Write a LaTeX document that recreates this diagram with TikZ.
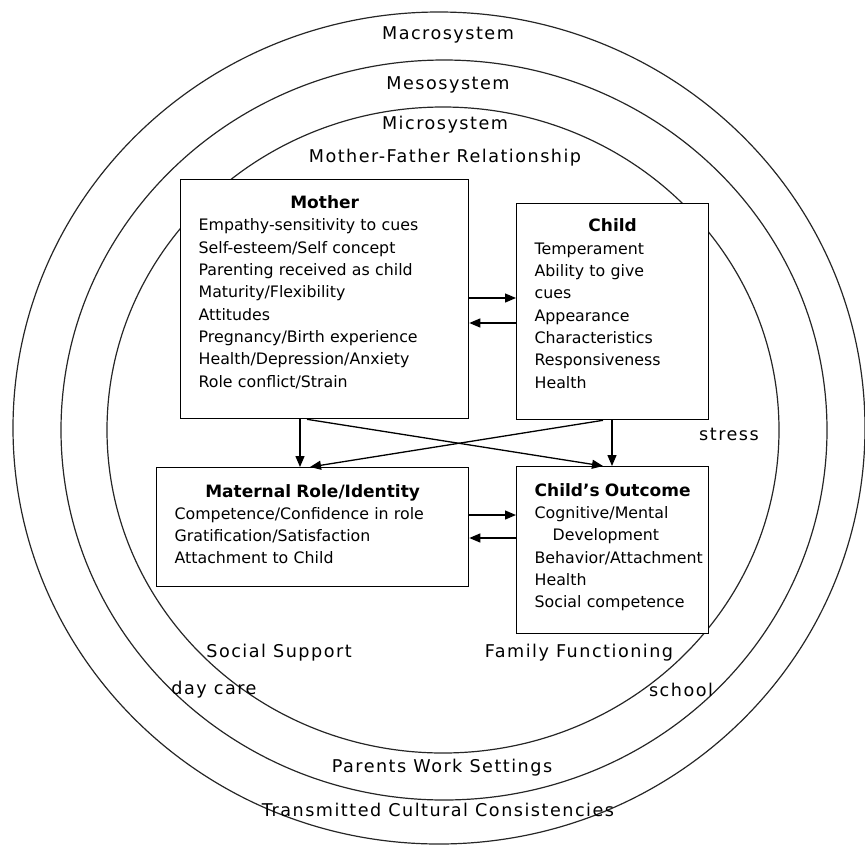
\documentclass[tikz,border=0pt]{standalone}
\usepackage{fontspec}
\setmainfont{DejaVu Sans}
\newfontfamily\ringfont[LetterSpace=8.5]{DejaVu Sans}
\usetikzlibrary{arrows.meta,positioning}
\newcommand{\boxfont}{\fontsize{15.8}{22.3}\selectfont}
\newcommand{\boxtitle}[1]{{\centering\fontsize{17}{22.3}\selectfont\bfseries #1\par}}
\tikzset{
    ring/.style = {draw=black!85,line width=1.2pt},
    ring label/.style = {font=\ringfont\fontsize{17.6}{19}\selectfont,inner sep=0pt},
    factor box/.style = {draw,fill=white,line width=1.3pt,anchor=north west,
        inner xsep=18pt,align=left,
        execute at begin node={\setlength{\parindent}{0pt}}},
    link/.style = {->,line width=1.3pt}
}

\begin{document}
\begin{tikzpicture}[x=1pt,y=-1pt,>={Triangle[length=11pt,width=9pt]},font=\boxfont]
    \useasboundingbox (0,0) rectangle (865,847);
    % the three systems
    \draw[ring] (439,428) ellipse [x radius=426pt, y radius=416pt];
    \draw[ring] (444,430) ellipse [x radius=383pt, y radius=370pt];
    \draw[ring] (443,430) ellipse [x radius=336pt, y radius=323pt];

    \node[factor box,text width=252pt,minimum height=239pt] (mother) at (180,179)
        {\boxtitle{Mother}
         Empathy-sensitivity to cues\\
         Self-esteem/Self concept\\
         Parenting received as child\\
         Maturity/Flexibility\\
         Attitudes\\
         Pregnancy/Birth experience\\
         Health/Depression/Anxiety\\
         Role conflict/Strain\par\kern14pt};
    \node[factor box,text width=156pt,minimum height=216pt] (child) at (516,203)
        {\boxtitle{Child}
         Temperament\\
         Ability to give\\
         cues\\
         Appearance\\
         Characteristics\\
         Responsiveness\\
         Health\par\kern16pt};
    \node[factor box,text width=276pt,minimum height=119pt] (maternal) at (156,467)
        {\boxtitle{Maternal Role/Identity}
         Competence/Confidence in role\\
         Gratification/Satisfaction\\
         Attachment to Child\par\kern6pt};
    \node[factor box,text width=156pt,minimum height=167pt] (outcome) at (516,466)
        {\boxtitle{Child's Outcome}
         Cognitive/Mental\\
         \hspace*{18pt}Development\\
         Behavior/Attachment\\
         Health\\
         Social competence\par\kern6pt};

    \draw[link] (mother.east |- 0,298) -- (child.west |- 0,298);
    \draw[link] (child.west |- 0,323) -- (mother.east |- 0,323);
    \draw[link] (maternal.east |- 0,515) -- (outcome.west |- 0,515);
    \draw[link] (outcome.west |- 0,538) -- (maternal.east |- 0,538);
    \draw[link] (mother.south -| 300,0) -- (maternal.north -| 300,0);
    \draw[link] (child.south -| 612,0) -- (outcome.north -| 612,0);
    \draw[link] (mother.south -| 307,0) -- (outcome.north -| 603,0);
    \draw[link] (child.south -| 603,0) -- (maternal.north -| 310,0);

    \node[ring label] (macro) at (448,35) {Macrosystem};
    \node[ring label] (meso) at (448,85) {Mesosystem};
    \node[ring label] (micro) at (445,125) {Microsystem};
    \node[ring label] (parents) at (445,158) {Mother-Father Relationship};
    \node[ring label] (stress) at (729,434) {stress};
    \node[ring label] (support) at (279,653) {Social Support};
    \node[ring label] (family) at (579,653) {Family Functioning};
    \node[ring label] (daycare) at (214,690) {day care};
    \node[ring label] (school) at (681,690) {school};
    \node[ring label] (work) at (442,768) {Parents Work Settings};
    \node[ring label] (culture) at (438,810) {Transmitted Cultural Consistencies};
\end{tikzpicture}
\end{document}
